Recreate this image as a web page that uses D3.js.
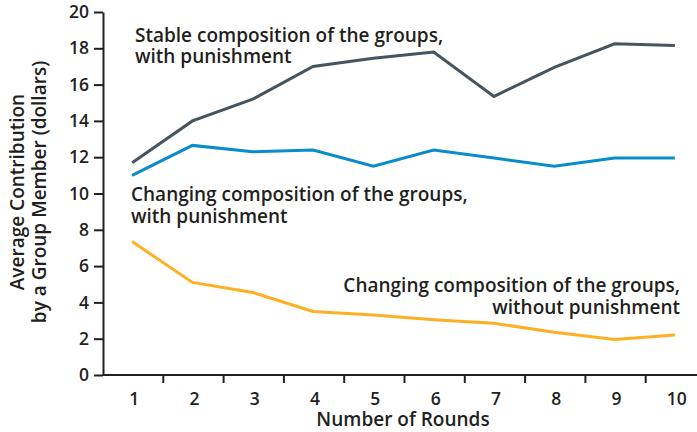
<!DOCTYPE html>
<html>
<head>
<meta charset="utf-8">
<script src="https://cdn.jsdelivr.net/npm/d3@7"></script>
<style>
  body { margin: 0; background: #fff; }
  svg text { font-family: "Open Sans", sans-serif; font-weight: 600; font-size: 19px; fill: #231f20; }
  svg text.tick-label { font-size: 17.5px; }
</style>
</head>
<body>
<svg id="chart" width="697" height="432"></svg>
<script>

  // rounds 1..10
  var rounds = [1, 2, 3, 4, 5, 6, 7, 8, 9, 10],

      stableWithPunishment   = [11.7, 14.0, 15.2, 17.0, 17.45, 17.8, 15.35, 16.95, 18.25, 18.15],
      changingWithPunishment = [11.0, 12.65, 12.3, 12.4, 11.5, 12.4, 11.95, 11.5, 11.95, 11.95],
      changingNoPunishment   = [7.35, 5.1, 4.55, 3.5, 3.3, 3.05, 2.85, 2.35, 1.95, 2.2],

      yTicks = [0, 2, 4, 6, 8, 10, 12, 14, 16, 18, 20];

  var svg = d3.select('#chart'),
      plotLeft = 103, plotRight = 706, plotTop = 12, plotBottom = 375;

  var x = d3.scaleBand().domain(rounds).range([plotLeft, plotRight]),
      y = d3.scaleLinear().domain([0, 20]).range([plotBottom, plotTop]);

  var series = [
    { values: stableWithPunishment,   color: '#45555f' },
    { values: changingWithPunishment, color: '#0a8cca' },
    { values: changingNoPunishment,   color: '#fdb024' }
  ];

  var line = d3.line()
    .x(function(d, i) { return x(rounds[i]) + x.bandwidth() / 2 - 1; })
    .y(function(d) { return y(d); });

  svg.selectAll('path.series')
    .data(series)
    .enter()
      .append('path')
      .attr('class', 'series')
      .attr('fill', 'none')
      .attr('stroke', function(d) { return d.color; })
      .attr('stroke-width', 3)
      .attr('d', function(d) { return line(d.values); });

  // y axis
  var yAxis = svg.append('g')
    .attr('transform', 'translate(' + plotLeft + ',0)')
    .call(d3.axisLeft(y).tickValues(yTicks).tickSize(9).tickPadding(5).tickSizeOuter(0));

  yAxis.attr('font-family', null).attr('font-size', null);
  yAxis.selectAll('text').attr('class', 'tick-label');

  // x axis - ticks sit between the rounds
  var xAxis = svg.append('g')
    .attr('transform', 'translate(0,' + plotBottom + ')');

  xAxis.append('line')
    .attr('x1', plotLeft).attr('x2', 697)
    .attr('y1', 0).attr('y2', 0);

  xAxis.selectAll('line.tick')
    .data(rounds.slice(1))
    .enter()
      .append('line')
      .attr('class', 'tick')
      .attr('x1', function(d) { return x(d); })
      .attr('x2', function(d) { return x(d); })
      .attr('y1', 0).attr('y2', 8);

  xAxis.selectAll('text')
    .data(rounds)
    .enter()
      .append('text')
      .attr('class', 'tick-label')
      .attr('x', function(d) { return x(d) + x.bandwidth() / 2 + 1; })
      .attr('y', 30)
      .attr('text-anchor', 'middle')
      .text(function(d) { return d; });

  svg.selectAll('g path.domain, g line, g .tick line')
    .attr('stroke', '#231f20')
    .attr('stroke-width', 2);

  // axis titles
  svg.append('text')
    .attr('x', 403).attr('y', 426)
    .attr('text-anchor', 'middle')
    .text('Number of Rounds');

  var yTitle = svg.append('text')
    .attr('transform', 'translate(0,192) rotate(-90)')
    .attr('text-anchor', 'middle');

  yTitle.append('tspan').attr('x', 0).attr('y', 24).text('Average Contribution');
  yTitle.append('tspan').attr('x', 0).attr('y', 46).text('by a Group Member (dollars)');

  // labels on the lines
  var notes = [
    { x: 135, y: 41.5, anchor: 'start', lines: ['Stable composition of the groups,', 'with punishment'] },
    { x: 131, y: 201,  anchor: 'start', lines: ['Changing composition of the groups,', 'with punishment'] },
    { x: 680, y: 292,  anchor: 'end',   lines: ['Changing composition of the groups,', 'without punishment'] }
  ];

  notes.forEach(function(n) {
    var t = svg.append('text')
      .attr('text-anchor', n.anchor);
    n.lines.forEach(function(l, i) {
      t.append('tspan').attr('x', n.x).attr('y', n.y + i * 21.5).text(l);
    });
  });

</script>
</body>
</html>
